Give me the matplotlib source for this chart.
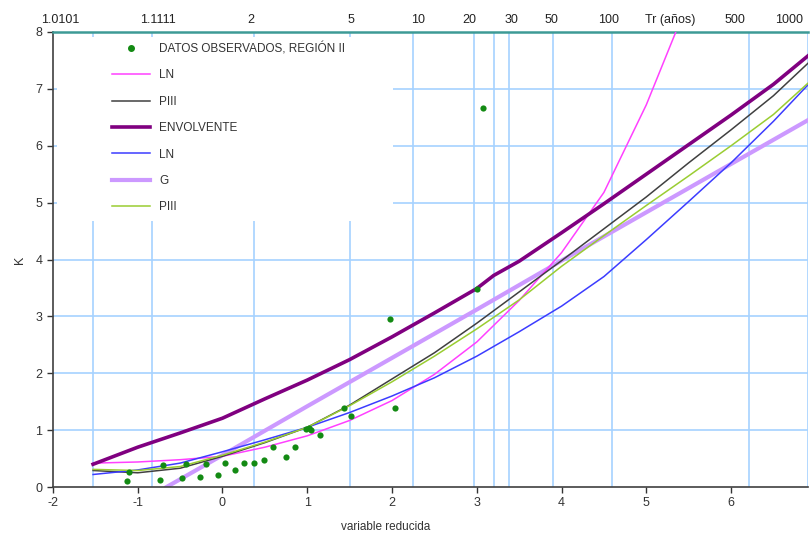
import numpy as np
import matplotlib
matplotlib.use("Agg")
import matplotlib.pyplot as plt
from matplotlib.lines import Line2D
from matplotlib.patches import Rectangle

plt.rcParams["font.family"] = ["Liberation Sans", "DejaVu Sans"]
plt.rcParams["axes.unicode_minus"] = False

# observed data (reduced variable, K)
obs_x = [-1.13, -1.10, -0.74, -0.70, -0.48, -0.43, -0.26, -0.19, -0.05, 0.03, 0.15,
         0.25, 0.37, 0.49, 0.60, 0.75, 0.85, 0.98, 1.02, 1.05, 1.15, 1.43, 1.52,
         1.98, 2.04, 3.00, 3.07]
obs_k = [0.10, 0.26, 0.12, 0.38, 0.15, 0.40, 0.18, 0.41, 0.21, 0.43, 0.30,
         0.43, 0.43, 0.48, 0.71, 0.53, 0.71, 1.02, 1.03, 1.01, 0.91, 1.39, 1.24,
         2.96, 1.39, 3.49, 6.67]

# fitted curves
xs = [-1.527, -1.0, -0.5, 0.0, 0.5, 1.0, 1.5, 2.0, 2.5, 3.0, 3.5, 4.0, 4.5,
      5.0, 5.5, 6.0, 6.5, 6.907]
ln1_x = [-1.527, -1.0, -0.5, 0.0, 0.5, 1.0, 1.5, 2.0, 2.5, 3.0, 3.5, 4.0, 4.5,
         5.0, 5.34, 5.45]
ln1_k = [0.42, 0.44, 0.48, 0.54, 0.70, 0.90, 1.17, 1.52, 1.98, 2.55, 3.28, 4.12,
         5.18, 6.72, 7.97, 8.40]
p3a_k = [0.29, 0.25, 0.33, 0.54, 0.78, 1.05, 1.44, 1.90, 2.36, 2.88, 3.43, 3.98,
         4.54, 5.10, 5.70, 6.28, 6.88, 7.45]
env_x = [-1.527, -1.0, -0.5, 0.0, 0.5, 1.0, 1.5, 2.0, 2.5, 3.0, 3.2, 3.5, 4.0,
         4.5, 5.0, 5.5, 6.0, 6.5, 6.907]
env_k = [0.40, 0.70, 0.95, 1.21, 1.55, 1.88, 2.24, 2.64, 3.06, 3.49, 3.72, 3.97,
         4.47, 4.98, 5.50, 6.02, 6.54, 7.08, 7.58]
ln2_k = [0.22, 0.30, 0.42, 0.62, 0.83, 1.05, 1.31, 1.60, 1.92, 2.30, 2.73, 3.18,
         3.70, 4.35, 5.02, 5.70, 6.43, 7.07]
g_x = [-0.66, 0.0, 1.0, 2.0, 3.0, 4.0, 5.0, 6.0, 6.907]
g_k = [0.0, 0.56, 1.42, 2.27, 3.12, 3.98, 4.83, 5.68, 6.45]
p3b_k = [0.31, 0.29, 0.36, 0.56, 0.79, 1.05, 1.43, 1.85, 2.30, 2.78, 3.29, 3.88,
         4.42, 4.95, 5.47, 6.00, 6.55, 7.10]

# return periods: gridlines and top-axis labels
tr_grid = [1.0101, 1.1111, 2, 5, 10, 20, 25, 30, 50, 100, 500, 1000]
tr_labels = ["1.0101", "1.1111", "2", "5", "10", "20", "30", "50", "100",
             "Tr (años)", "500", "1000"]
tr_label_pos = [-1.92, -0.76, 0.33, 1.51, 2.31, 2.91, 3.41, 3.88, 4.56, 5.28,
                6.05, 6.69]


def reduced(T):
    T = np.asarray(T, dtype=float)
    return -np.log(-np.log(1 - 1 / T))


fig = plt.figure(figsize=(8.1, 5.35), dpi=100)
ax = fig.add_axes([0.0654, 0.0897, 0.9321, 0.8505])
grid_c = "#a6d2ff"

for xv in reduced(tr_grid):
    ax.axvline(xv, color=grid_c, lw=1.2, zorder=0.5)
for yv in range(1, 8):
    ax.axhline(yv, color=grid_c, lw=1.2, zorder=0.5)

# white area behind the legend
ax.add_patch(Rectangle((0.005, 0.585), 0.445, 0.405, transform=ax.transAxes,
                       facecolor="white", edgecolor="none", zorder=1))

ax.plot(ln1_x, ln1_k, color="#ff40ff", lw=1.1, zorder=3)
ax.plot(xs, p3a_k, color="#404040", lw=1.1, zorder=3)
ax.plot(env_x, env_k, color="#800080", lw=2.6, zorder=3)
ax.plot(xs, ln2_k, color="#3c3cff", lw=1.1, zorder=3)
ax.plot(g_x, g_k, color="#cc99ff", lw=3.0, zorder=2.5)
ax.plot(xs, p3b_k, color="#9acd32", lw=1.1, zorder=3)
ax.scatter(obs_x, obs_k, s=20, color="#138a13", zorder=4, linewidths=0)

ax.set_xlim(-2, float(reduced(1000)))
ax.set_ylim(0, 8)
ax.set_xticks(range(-2, 7))
ax.set_yticks(range(0, 9))
ax.tick_params(labelsize=9, labelcolor="#333333", color="#333333", length=4,
               width=1)
for s in ["left", "bottom"]:
    ax.spines[s].set_color("#404040")
    ax.spines[s].set_linewidth(1.2)
ax.spines["right"].set_visible(False)
ax.spines["top"].set_color("#3d9a96")
ax.spines["top"].set_linewidth(1.8)

ax.set_xlabel("variable reducida", fontsize=8.5, color="#333333")
ax.xaxis.set_label_coords(0.44, -0.075)
ax.set_ylabel("K", fontsize=9, color="#333333")
ax.yaxis.set_label_coords(-0.036, 0.5)

top = ax.secondary_xaxis("top")
top.set_xticks(tr_label_pos, labels=tr_labels)
top.tick_params(length=0, pad=4, labelsize=9, labelcolor="#222222")
top.spines["top"].set_visible(False)

handles = [
    Line2D([], [], ls="", marker="o", ms=4, color="#138a13"),
    Line2D([], [], color="#ff40ff", lw=1.1),
    Line2D([], [], color="#404040", lw=1.1),
    Line2D([], [], color="#800080", lw=2.6),
    Line2D([], [], color="#3c3cff", lw=1.1),
    Line2D([], [], color="#cc99ff", lw=3.0),
    Line2D([], [], color="#9acd32", lw=1.1),
]
labels = ["DATOS OBSERVADOS, REGIÓN II", "LN", "PIII", "ENVOLVENTE", "LN", "G", "PIII"]
leg = ax.legend(handles, labels, loc="upper left", bbox_to_anchor=(0.078, 0.978),
                frameon=False, fontsize=8.5, handlelength=3.2, handletextpad=0.8,
                labelspacing=1.22, borderpad=0, borderaxespad=0)
for t in leg.get_texts():
    t.set_color("#333333")

fig.savefig("out.png", dpi=100)
